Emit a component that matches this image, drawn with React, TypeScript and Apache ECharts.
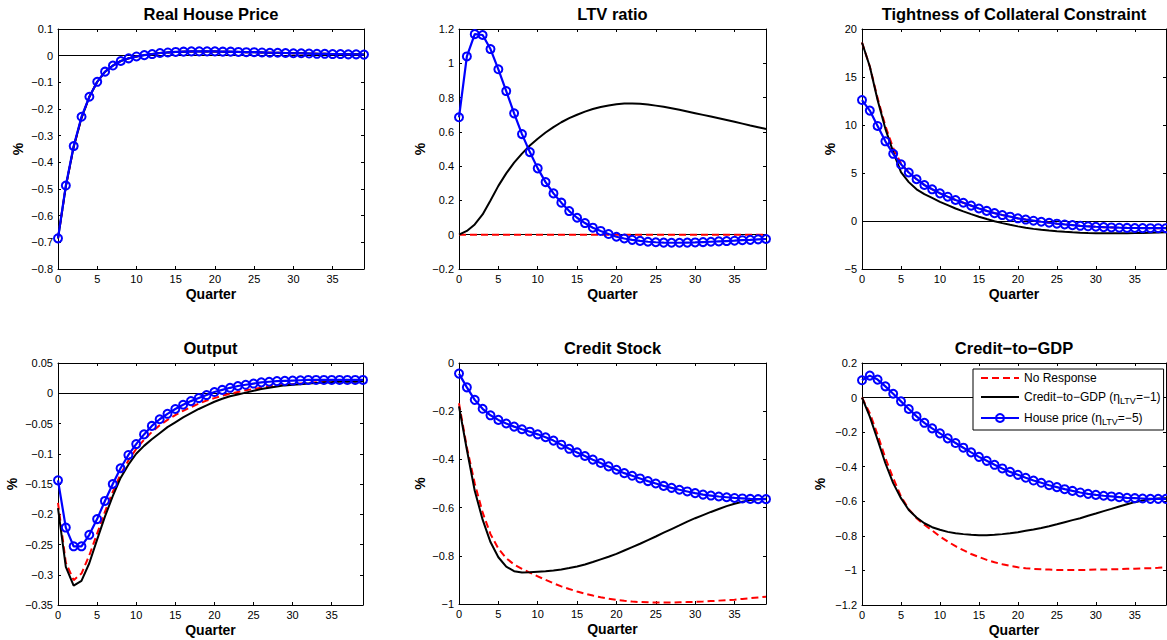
import React, { useEffect, useRef } from 'react';
import * as echarts from 'echarts';

const quarters = [0, 1, 2, 3, 4, 5, 6, 7, 8, 9, 10, 11, 12, 13, 14, 15, 16, 17, 18, 19, 20, 21, 22, 23, 24, 25, 26, 27, 28, 29, 30, 31, 32, 33, 34, 35, 36, 37, 38, 39];

const seriesNames = ['No Response', 'Credit\u2212to\u2212GDP (\u03b7LTV=\u22121)', 'House price (\u03b7LTV=\u22125)'];

const titles = ['Real House Price', 'LTV ratio', 'Tightness of Collateral Constraint', 'Output', 'Credit Stock', 'Credit\u2212to\u2212GDP'];

const yMin = [-0.8, -0.2, -5, -0.35, -1, -1.2];
const yMax = [0.1, 1.2, 20, 0.05, 0, 0.2];
const yStep = [0.1, 0.2, 5, 0.05, 0.2, 0.2];
const xTickStep = 5;
const xMin = 0;
const xMax = 39;

// Real House Price
const hpRed = [-0.685, -0.49, -0.342, -0.233, -0.154, -0.098, -0.06, -0.037, -0.02, -0.01, -0.003, 0.002, 0.006, 0.01, 0.012, 0.014, 0.015, 0.016, 0.016, 0.016, 0.016, 0.015, 0.015, 0.014, 0.013, 0.013, 0.012, 0.011, 0.011, 0.01, 0.009, 0.009, 0.008, 0.007, 0.007, 0.006, 0.006, 0.005, 0.005, 0.004];
const hpBlack = [-0.685, -0.49, -0.342, -0.233, -0.154, -0.098, -0.06, -0.037, -0.02, -0.01, -0.003, 0.002, 0.006, 0.01, 0.012, 0.014, 0.015, 0.016, 0.016, 0.016, 0.016, 0.015, 0.015, 0.014, 0.013, 0.013, 0.012, 0.011, 0.011, 0.01, 0.009, 0.009, 0.008, 0.007, 0.007, 0.006, 0.006, 0.005, 0.005, 0.004];
const hpBlue = [-0.685, -0.487, -0.339, -0.229, -0.154, -0.098, -0.06, -0.037, -0.02, -0.01, -0.003, 0.002, 0.006, 0.01, 0.012, 0.014, 0.015, 0.016, 0.016, 0.016, 0.016, 0.015, 0.015, 0.014, 0.013, 0.013, 0.012, 0.011, 0.011, 0.01, 0.009, 0.009, 0.008, 0.007, 0.007, 0.006, 0.006, 0.005, 0.005, 0.004];

// LTV ratio
const ltvRed = [0, 0, 0, 0, 0, 0, 0, 0, 0, 0, 0, 0, 0, 0, 0, 0, 0, 0, 0, 0, 0, 0, 0, 0, 0, 0, 0, 0, 0, 0, 0, 0, 0, 0, 0, 0, 0, 0, 0, 0];
const ltvBlack = [0, 0.022, 0.06, 0.118, 0.2, 0.285, 0.358, 0.42, 0.473, 0.52, 0.56, 0.596, 0.628, 0.656, 0.68, 0.7, 0.718, 0.733, 0.745, 0.754, 0.761, 0.765, 0.766, 0.764, 0.76, 0.753, 0.746, 0.738, 0.729, 0.719, 0.709, 0.699, 0.689, 0.679, 0.669, 0.659, 0.648, 0.637, 0.627, 0.617];
const ltvBlue = [0.685, 1.04, 1.17, 1.165, 1.083, 0.965, 0.838, 0.708, 0.587, 0.482, 0.387, 0.307, 0.241, 0.187, 0.138, 0.099, 0.068, 0.041, 0.022, 0.004, -0.012, -0.022, -0.03, -0.036, -0.041, -0.044, -0.046, -0.047, -0.047, -0.046, -0.045, -0.043, -0.041, -0.039, -0.037, -0.035, -0.032, -0.03, -0.027, -0.025];

// Tightness of Collateral Constraint
const tcRed = [18.6, 16.1, 12.8, 9.9, 7.6, 6.0, 5.05, 4.35, 3.75, 3.3, 2.88, 2.53, 2.19, 1.9, 1.6, 1.3, 1.05, 0.82, 0.62, 0.45, 0.28, 0.15, 0.03, -0.08, -0.18, -0.28, -0.36, -0.43, -0.5, -0.55, -0.6, -0.64, -0.67, -0.7, -0.72, -0.73, -0.74, -0.75, -0.75, -0.75];
const tcBlack = [18.6, 16.1, 12.6, 9.6, 7.2, 5.1, 4.05, 3.3, 2.8, 2.4, 2.0, 1.65, 1.3, 1.0, 0.72, 0.45, 0.2, -0.02, -0.22, -0.4, -0.56, -0.7, -0.82, -0.92, -1.0, -1.07, -1.13, -1.18, -1.22, -1.25, -1.27, -1.28, -1.28, -1.28, -1.27, -1.26, -1.24, -1.22, -1.2, -1.18];
const tcBlue = [12.6, 11.5, 9.9, 8.3, 7.0, 5.9, 5.05, 4.35, 3.75, 3.3, 2.88, 2.53, 2.19, 1.9, 1.6, 1.3, 1.05, 0.82, 0.62, 0.45, 0.28, 0.15, 0.03, -0.08, -0.18, -0.28, -0.36, -0.43, -0.5, -0.55, -0.6, -0.64, -0.67, -0.7, -0.72, -0.73, -0.74, -0.75, -0.75, -0.75];

// Output
const outRed = [-0.181, -0.28, -0.309, -0.298, -0.268, -0.232, -0.196, -0.163, -0.134, -0.111, -0.092, -0.077, -0.064, -0.053, -0.044, -0.036, -0.029, -0.023, -0.017, -0.012, -0.008, -0.004, -0.001, 0.002, 0.005, 0.007, 0.009, 0.011, 0.013, 0.014, 0.015, 0.016, 0.017, 0.018, 0.018, 0.019, 0.019, 0.02, 0.02, 0.02];
const outBlack = [-0.19, -0.287, -0.318, -0.31, -0.281, -0.242, -0.204, -0.17, -0.14, -0.118, -0.1, -0.087, -0.076, -0.066, -0.056, -0.048, -0.04, -0.033, -0.026, -0.02, -0.014, -0.009, -0.005, -0.002, 0.001, 0.004, 0.007, 0.009, 0.011, 0.013, 0.014, 0.015, 0.016, 0.017, 0.018, 0.018, 0.019, 0.019, 0.019, 0.02];
const outBlue = [-0.144, -0.222, -0.253, -0.253, -0.234, -0.208, -0.178, -0.15, -0.124, -0.102, -0.084, -0.068, -0.054, -0.043, -0.034, -0.026, -0.019, -0.013, -0.008, -0.003, 0.002, 0.0055, 0.009, 0.012, 0.014, 0.016, 0.018, 0.019, 0.02, 0.0205, 0.021, 0.0215, 0.022, 0.022, 0.022, 0.022, 0.022, 0.022, 0.022, 0.022];

// Credit Stock
const csRed = [-0.167, -0.35, -0.5, -0.62, -0.71, -0.77, -0.81, -0.836, -0.854, -0.87, -0.885, -0.9, -0.914, -0.927, -0.938, -0.948, -0.957, -0.965, -0.972, -0.978, -0.983, -0.987, -0.99, -0.992, -0.993, -0.994, -0.994, -0.994, -0.993, -0.992, -0.991, -0.99, -0.988, -0.986, -0.984, -0.982, -0.979, -0.976, -0.973, -0.97];
const csBlack = [-0.18, -0.36, -0.53, -0.65, -0.743, -0.806, -0.845, -0.864, -0.869, -0.868, -0.866, -0.864, -0.861, -0.857, -0.851, -0.844, -0.836, -0.826, -0.815, -0.804, -0.792, -0.778, -0.764, -0.75, -0.735, -0.72, -0.704, -0.689, -0.674, -0.658, -0.644, -0.631, -0.618, -0.606, -0.594, -0.584, -0.576, -0.569, -0.565, -0.563];
const csBlue = [-0.044, -0.101, -0.153, -0.19, -0.217, -0.236, -0.251, -0.264, -0.275, -0.285, -0.296, -0.308, -0.322, -0.339, -0.356, -0.371, -0.386, -0.401, -0.415, -0.429, -0.443, -0.457, -0.468, -0.479, -0.49, -0.5, -0.51, -0.518, -0.526, -0.533, -0.54, -0.546, -0.55, -0.554, -0.557, -0.56, -0.562, -0.564, -0.565, -0.565];

// Credit-to-GDP
const cgRed = [0, -0.09, -0.215, -0.35, -0.466, -0.572, -0.645, -0.698, -0.736, -0.769, -0.804, -0.833, -0.86, -0.883, -0.905, -0.922, -0.939, -0.953, -0.964, -0.974, -0.982, -0.987, -0.991, -0.993, -0.995, -0.997, -0.997, -0.997, -0.997, -0.997, -0.995, -0.995, -0.993, -0.993, -0.991, -0.99, -0.988, -0.987, -0.985, -0.982];
const cgBlack = [0, -0.11, -0.244, -0.38, -0.495, -0.582, -0.65, -0.694, -0.727, -0.75, -0.765, -0.777, -0.785, -0.79, -0.794, -0.797, -0.797, -0.794, -0.79, -0.785, -0.779, -0.771, -0.763, -0.754, -0.744, -0.733, -0.721, -0.709, -0.698, -0.684, -0.671, -0.657, -0.644, -0.63, -0.617, -0.605, -0.596, -0.588, -0.584, -0.582];
const cgBlue = [0.1, 0.127, 0.104, 0.065, 0.022, -0.022, -0.066, -0.109, -0.146, -0.178, -0.207, -0.236, -0.263, -0.29, -0.317, -0.343, -0.366, -0.389, -0.41, -0.43, -0.447, -0.464, -0.48, -0.493, -0.507, -0.518, -0.53, -0.54, -0.549, -0.557, -0.563, -0.568, -0.572, -0.576, -0.58, -0.582, -0.584, -0.586, -0.586, -0.586];

const panelData = [
  [hpRed, hpBlack, hpBlue],
  [ltvRed, ltvBlack, ltvBlue],
  [tcRed, tcBlack, tcBlue],
  [outRed, outBlack, outBlue],
  [csRed, csBlack, csBlue],
  [cgRed, cgBlack, cgBlue],
];

const FONT = '"Liberation Sans", Arial, Helvetica, sans-serif';

const gridBoxes = [
  { left: 58, top: 29, width: 306, height: 240 },
  { left: 459, top: 29, width: 307, height: 240 },
  { left: 862, top: 29, width: 304, height: 240 },
  { left: 58, top: 363, width: 305, height: 242 },
  { left: 459, top: 363, width: 307, height: 241 },
  { left: 862, top: 363, width: 304, height: 242 },
];
const yNameGaps = [33, 32, 25, 39, 32, 35];
const titleTops = [5, 5, 5, 339.5, 339.5, 339.5];

const fmt = (v: number) => {
  const r = Math.round(v * 1e6) / 1e6;
  return String(r).replace('-', '\u2212');
};

const legendLabels: Record<string, string> = {
  [seriesNames[0]]: '{n|No Response}',
  [seriesNames[1]]: '{m|Credit\u2212to\u2212GDP (\u03b7}{s|LTV}{m|=\u22121)}',
  [seriesNames[2]]: '{m|House price (\u03b7}{s|LTV}{m|=\u22125)}',
};

const CLEAR = 'rgba(0,0,0,0)';

function buildOption() {
  const grid: any[] = [];
  const xAxis: any[] = [];
  const yAxis: any[] = [];
  const series: any[] = [];
  const title: any[] = [];
  const tickStyle = { inside: true, length: 3, lineStyle: { color: '#000', width: 1 } };
  const lineAx = { show: true, onZero: false, lineStyle: { color: '#000', width: 1 } };

  gridBoxes.forEach((g, i) => {
    grid.push({ ...g, containLabel: false, show: false });
    title.push({
      text: titles[i],
      left: g.left + g.width / 2,
      top: titleTops[i],
      textAlign: 'center',
      padding: 0,
      textStyle: { fontSize: 16.5, fontWeight: 'bold', color: '#000', fontFamily: FONT },
    });
    xAxis.push({
      type: 'value', gridIndex: i, position: 'bottom', min: xMin, max: xMax, interval: xTickStep,
      axisLine: lineAx, axisTick: tickStyle, splitLine: { show: false },
      axisLabel: { margin: 4, fontSize: 11, color: '#000', fontFamily: FONT, showMaxLabel: false, formatter: fmt },
      name: 'Quarter', nameLocation: 'middle', nameGap: 18,
      nameTextStyle: { fontSize: 14, fontWeight: 'bold', color: '#000', fontFamily: FONT },
    });
    xAxis.push({
      type: 'value', gridIndex: i, position: 'top', min: xMin, max: xMax, interval: xTickStep,
      axisLine: lineAx, axisTick: tickStyle, splitLine: { show: false }, axisLabel: { show: false },
    });
    yAxis.push({
      type: 'value', gridIndex: i, position: 'left', min: yMin[i], max: yMax[i], interval: yStep[i],
      axisLine: lineAx, axisTick: tickStyle, splitLine: { show: false },
      axisLabel: { margin: 5, fontSize: 11, color: '#000', fontFamily: FONT, formatter: fmt },
      name: '%', nameLocation: 'middle', nameGap: yNameGaps[i],
      nameTextStyle: { fontSize: 14, fontWeight: 'bold', color: '#000', fontFamily: FONT },
    });
    yAxis.push({
      type: 'value', gridIndex: i, position: 'right', min: yMin[i], max: yMax[i], interval: yStep[i],
      axisLine: lineAx, axisTick: tickStyle, splitLine: { show: false }, axisLabel: { show: false },
    });

    const [red, black, blue] = panelData[i];
    const xi = 2 * i;
    series.push({
      type: 'line', name: seriesNames[0], xAxisIndex: xi, yAxisIndex: xi,
      data: quarters.map((q, k) => [q, red[k]]),
      symbol: 'none', showSymbol: false, z: 3,
      lineStyle: { color: '#ff0000', width: 2, type: [7, 4] },
      itemStyle: { color: CLEAR, borderWidth: 0 },
      markLine: {
        silent: true, symbol: ['none', 'none'], label: { show: false }, z: 1,
        lineStyle: { color: '#000', width: 1, type: 'solid' },
        data: [{ yAxis: 0 }],
      },
    });
    series.push({
      type: 'line', name: seriesNames[1], xAxisIndex: xi, yAxisIndex: xi,
      data: quarters.map((q, k) => [q, black[k]]),
      symbol: 'none', showSymbol: false, z: 4,
      lineStyle: { color: '#000', width: 2 },
      itemStyle: { color: CLEAR, borderWidth: 0 },
    });
    series.push({
      type: 'line', name: seriesNames[2], xAxisIndex: xi, yAxisIndex: xi,
      data: quarters.map((q, k) => [q, blue[k]]),
      symbol: 'circle', symbolSize: 8, showSymbol: true, z: 5,
      lineStyle: { color: '#0000ff', width: 2.2 },
      itemStyle: { color: 'rgba(255,255,255,0)', borderColor: '#0000ff', borderWidth: 2 },
    });
  });

  return {
    animation: false,
    backgroundColor: '#fff',
    textStyle: { fontFamily: FONT },
    title,
    grid,
    xAxis,
    yAxis,
    series,
    legend: {
      data: seriesNames,
      orient: 'vertical',
      left: 973,
      top: 369,
      z: 10,
      padding: [3, 3, 4, 7],
      itemGap: 7,
      itemWidth: 38,
      itemHeight: 10,
      selectedMode: false,
      backgroundColor: '#fff',
      borderColor: '#000',
      borderWidth: 1,
      borderRadius: 0,
      formatter: (name: string) => legendLabels[name] || name,
      textStyle: {
        fontSize: 12, color: '#000', fontFamily: FONT,
        rich: {
          n: { fontSize: 12, lineHeight: 14, color: '#000', fontFamily: FONT },
          m: { fontSize: 12, lineHeight: 16, color: '#000', fontFamily: FONT },
          s: { fontSize: 9, lineHeight: 8, verticalAlign: 'bottom', color: '#000', fontFamily: FONT },
        },
      },
    },
  };
}

export default function App() {
  const ref = useRef<HTMLDivElement>(null);
  useEffect(() => {
    if (!ref.current) return;
    const chart = echarts.init(ref.current, undefined, { renderer: 'svg' });
    chart.setOption(buildOption() as any);
    return () => chart.dispose();
  }, []);
  return (
    <div
      ref={ref}
      style={{ position: 'absolute', left: 0, top: 0, width: 1167, height: 640, background: '#fff' }}
    />
  );
}
